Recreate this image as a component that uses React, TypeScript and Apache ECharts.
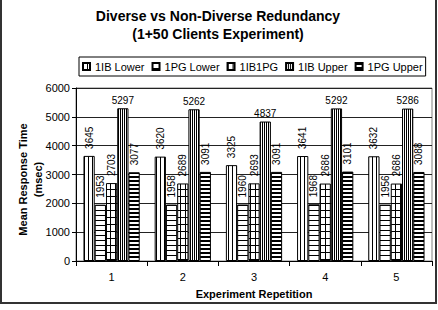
import React, { useEffect, useRef } from "react";
import * as echarts from "echarts";

const categories = ["1", "2", "3", "4", "5"];
const seriesNames = ["1IB Lower", "1PG Lower", "1IB1PG", "1IB Upper", "1PG Upper"];
const ibLower = [3645, 3620, 3325, 3641, 3632];
const pgLower = [1953, 1958, 1960, 1968, 1956];
const ib1pg = [2703, 2689, 2693, 2686, 2686];
const ibUpper = [5297, 5262, 4837, 5292, 5286];
const pgUpper = [3077, 3091, 3091, 3101, 3088];
const yMin = 0;
const yMax = 6000;
const yInterval = 1000;

const FONT = "Liberation Sans, Arial, sans-serif";

function makePattern(w: number, h: number, vLines: number[], hLines: number[], hThick = 1) {
  const c = document.createElement("canvas");
  c.width = w;
  c.height = h;
  const ctx = c.getContext("2d")!;
  ctx.fillStyle = "#fff";
  ctx.fillRect(0, 0, w, h);
  ctx.fillStyle = "#000";
  vLines.forEach((x) => ctx.fillRect(x, 0, 1, h));
  hLines.forEach((y) => ctx.fillRect(0, y, w, hThick));
  return { image: c.toDataURL(), imageWidth: w, imageHeight: h, repeat: "repeat" };
}

export default function App() {
  const ref = useRef<HTMLDivElement>(null);
  useEffect(() => {
    if (!ref.current) return;
    const chart = echarts.init(ref.current, null, { renderer: "svg" });
    const patterns = [
      makePattern(4, 4, [0], []),
      makePattern(4, 5, [], [0]),
      makePattern(5, 7, [0], [0]),
      makePattern(2, 2, [0], []),
      makePattern(4, 4, [], [0], 2),
    ];
    const data = [ibLower, pgLower, ib1pg, ibUpper, pgUpper];
    const rotLabel = {
      show: true,
      position: "top",
      rotate: 90,
      align: "left",
      verticalAlign: "middle",
      distance: 7,
      fontSize: 10,
      color: "#000",
      fontFamily: FONT,
    };
    const flatLabel = {
      show: true,
      position: "top",
      distance: 3,
      fontSize: 10,
      color: "#000",
      fontFamily: FONT,
    };
    chart.setOption({
      animation: false,
      backgroundColor: "#fff",
      graphic: [
        {
          type: "rect",
          shape: { x: 1, y: -2, width: 435, height: 305 },
          style: { fill: "none", stroke: "#333", lineWidth: 2 },
          silent: true,
        },
        {
          type: "text",
          x: 218,
          y: 16,
          style: {
            text: "Diverse vs Non-Diverse Redundancy",
            fontSize: 14,
            fontWeight: "bold",
            fontFamily: FONT,
            fill: "#000",
            align: "center",
            verticalAlign: "middle",
          },
        },
        {
          type: "text",
          x: 218,
          y: 34,
          style: {
            text: "(1+50 Clients Experiment)",
            fontSize: 14,
            fontWeight: "bold",
            fontFamily: FONT,
            fill: "#000",
            align: "center",
            verticalAlign: "middle",
          },
        },
      ],
      legend: {
        left: 79,
        top: 57,
        padding: [4, 3, 4, 3],
        itemGap: 7,
        itemWidth: 7,
        itemHeight: 7,
        borderColor: "#000",
        borderWidth: 1,
        icon: "rect",
        textStyle: { fontSize: 11, color: "#000", fontFamily: FONT },
        data: seriesNames,
      },
      grid: {
        left: 76,
        right: 6,
        top: 88,
        bottom: 49,
        outerBoundsMode: "none",
        containLabel: false,
        show: true,
        backgroundColor: "#fff",
        borderColor: "#808080",
        borderWidth: 1,
      },
      xAxis: {
        type: "category",
        data: categories,
        axisLine: { lineStyle: { color: "#000", width: 1 } },
        axisTick: { show: true, length: 5, lineStyle: { color: "#000" } },
        axisLabel: { fontSize: 11, color: "#000", fontFamily: FONT, margin: 10 },
        name: "Experiment Repetition",
        nameLocation: "middle",
        nameGap: 27,
        nameTextStyle: { fontSize: 11, fontWeight: "bold", color: "#000", fontFamily: FONT },
      },
      yAxis: {
        type: "value",
        min: yMin,
        max: yMax,
        interval: yInterval,
        axisLine: { show: true, lineStyle: { color: "#000", width: 1 } },
        axisTick: { show: true, length: 4, lineStyle: { color: "#000" } },
        axisLabel: {
          fontSize: 11,
          color: "#000",
          fontFamily: FONT,
          margin: 6,
          formatter: (v: number) => String(v),
        },
        splitLine: { lineStyle: { color: "#222", width: 1 } },
        name: "Mean Response Time\n(msec)",
        nameLocation: "middle",
        nameRotate: 90,
        nameGap: 31,
        nameMoveOverlap: false,
        nameTextStyle: {
          fontSize: 11,
          fontWeight: "bold",
          color: "#000",
          fontFamily: FONT,
          lineHeight: 15,
          padding: [0, 10, 0, 0],
        },
      },
      series: seriesNames.map((name, i) => ({
        name,
        type: "bar",
        data: data[i],
        barGap: "0%",
        barCategoryGap: "21%",
        itemStyle: { color: patterns[i], borderColor: "#000", borderWidth: 1 },
        label: i === 3 ? flatLabel : rotLabel,
      })),
    });
    return () => chart.dispose();
  }, []);
  return (
    <div
      ref={ref}
      style={{ position: "absolute", left: 0, top: 0, width: 438, height: 310, background: "#fff" }}
    />
  );
}
